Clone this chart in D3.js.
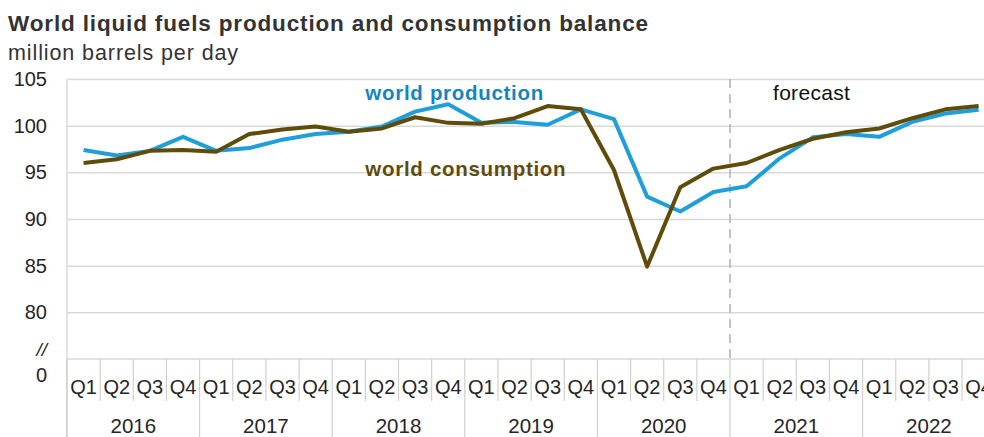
<!DOCTYPE html>
<html>
<head>
<meta charset="utf-8">
<script src="https://cdn.jsdelivr.net/npm/d3@7"></script>
<style>
  body { margin: 0; background: #fff; }
  svg { display: block; font-family: "Liberation Sans", Arial, sans-serif; }
</style>
</head>
<body>
<svg id="chart" width="984" height="437"></svg>
<script>
const years = ['2016', '2017', '2018', '2019', '2020', '2021', '2022'];
const quarters = ['Q1', 'Q2', 'Q3', 'Q4'];
const forecastStart = '2021 Q1';

const production = [
  97.4, 96.8, 97.3, 98.8,
  97.3, 97.6, 98.5, 99.1,
  99.35, 99.9, 101.5, 102.3,
  100.3, 100.4, 100.1, 101.75,
  100.7, 92.4, 90.8, 92.9,
  93.5, 96.5, 98.75, 99.1,
  98.8, 100.4, 101.3, 101.7
];
const consumption = [
  96.0, 96.4, 97.3, 97.4,
  97.2, 99.1, 99.6, 99.9,
  99.35, 99.7, 100.9, 100.3,
  100.2, 100.8, 102.1, 101.75,
  95.25, 84.9, 93.4, 95.4,
  96.0, 97.4, 98.6, 99.3,
  99.7, 100.8, 101.75, 102.1
];
const yTicks = [80, 85, 90, 95, 100, 105];

const MARGIN = {top: 79, left: 67, bottom: 359};
const BAND = 33.15;

const keys = years.flatMap(yr => quarters.map(q => `${yr} ${q}`));

const svg = d3.select('#chart');

const x = d3.scaleBand()
  .domain(keys)
  .range([MARGIN.left, MARGIN.left + BAND * keys.length]);

const y = d3.scaleLinear()
  .domain([75, 105])
  .range([MARGIN.bottom, MARGIN.top]);

const right = x.range()[1];
const textColor = '#262626';

// title
svg.append('text')
  .attr('x', 8).attr('y', 31)
  .style('font-size', '22.5px').style('font-weight', 'bold')
  .style('letter-spacing', '0.85px')
  .attr('fill', '#333')
  .text('World liquid fuels production and consumption balance');

svg.append('text')
  .attr('x', 8).attr('y', 60)
  .style('font-size', '21.5px')
  .style('letter-spacing', '0.9px')
  .attr('fill', '#333')
  .text('million barrels per day');

// gridlines + y labels
const yAxis = svg.append('g')
  .attr('transform', `translate(${MARGIN.left},0)`)
  .call(d3.axisLeft(y).tickValues(yTicks).tickSize(-(right - MARGIN.left)).tickPadding(20));
yAxis.select('.domain').remove();
yAxis.selectAll('.tick line').attr('stroke', '#d9d9d9').attr('stroke-width', 1.5);
yAxis.selectAll('.tick text')
  .attr('fill', textColor)
  .style('font-size', '20px')
  .style('font-family', '"Liberation Sans", Arial, sans-serif');

// left axis line
svg.append('line')
  .attr('x1', MARGIN.left).attr('x2', MARGIN.left)
  .attr('y1', y(105)).attr('y2', 437)
  .attr('stroke', '#d9d9d9').attr('stroke-width', 1.5);

// baseline
svg.append('line')
  .attr('x1', MARGIN.left).attr('x2', right)
  .attr('y1', y(75)).attr('y2', y(75))
  .attr('stroke', '#d9d9d9').attr('stroke-width', 1.5);

// axis break + zero
svg.append('text')
  .attr('x', 47).attr('y', y(75) - 3)
  .attr('text-anchor', 'end')
  .style('font-size', '19px').style('font-style', 'italic')
  .attr('fill', textColor)
  .text('//');
svg.append('text')
  .attr('x', 47).attr('y', y(75) + 23)
  .attr('text-anchor', 'end')
  .style('font-size', '20px')
  .attr('fill', textColor)
  .text('0');

// quarter dividers and labels
const qg = svg.append('g');
qg.selectAll('line')
  .data(keys)
  .join('line')
  .attr('x1', d => x(d)).attr('x2', d => x(d))
  .attr('y1', y(75))
  .attr('y2', d => d.endsWith('Q1') ? 437 : 401)
  .attr('stroke', '#d0d0d0').attr('stroke-width', 1.2);
qg.selectAll('text')
  .data(keys)
  .join('text')
  .attr('x', d => x(d) + x.bandwidth() / 2)
  .attr('y', 394)
  .attr('text-anchor', 'middle')
  .style('font-size', '20px')
  .attr('fill', textColor)
  .text(d => d.split(' ')[1]);

svg.append('g').selectAll('text')
  .data(years)
  .join('text')
  .attr('x', d => x(`${d} Q1`) + 2 * BAND)
  .attr('y', 433)
  .attr('text-anchor', 'middle')
  .style('font-size', '20.5px')
  .attr('fill', textColor)
  .text(d => d);

// forecast divider
svg.append('line')
  .attr('x1', x(forecastStart)).attr('x2', x(forecastStart))
  .attr('y1', y(105)).attr('y2', y(75))
  .attr('stroke', '#b0b0b0').attr('stroke-width', 1.5)
  .attr('stroke-dasharray', '9,6');
svg.append('text')
  .attr('x', x(forecastStart) + 43).attr('y', y(103.6) + 8)
  .style('font-size', '21px')
  .style('letter-spacing', '0.3px')
  .attr('fill', '#111')
  .text('forecast');

// lines
const line = d3.line()
  .x((d, i) => x(keys[i]) + x.bandwidth() / 2)
  .y(d => y(d));

svg.append('path')
  .datum(production)
  .attr('fill', 'none')
  .attr('stroke', '#1f9fd9')
  .attr('stroke-width', 4)
  .attr('stroke-linejoin', 'round')
  .attr('d', line);

svg.append('path')
  .datum(consumption)
  .attr('fill', 'none')
  .attr('stroke', '#5f4c0b')
  .attr('stroke-width', 4)
  .attr('stroke-linejoin', 'round')
  .attr('d', line);

// series labels
svg.append('text')
  .attr('x', x('2018 Q2')).attr('y', y(103.6) + 8)
  .style('font-size', '20.5px').style('font-weight', 'bold')
  .style('letter-spacing', '0.7px')
  .attr('fill', '#1385c2')
  .text('world production');
svg.append('text')
  .attr('x', x('2018 Q2')).attr('y', y(95.5) + 8)
  .style('font-size', '20.5px').style('font-weight', 'bold')
  .style('letter-spacing', '0.7px')
  .attr('fill', '#5f4c0b')
  .text('world consumption');
</script>
</body>
</html>
